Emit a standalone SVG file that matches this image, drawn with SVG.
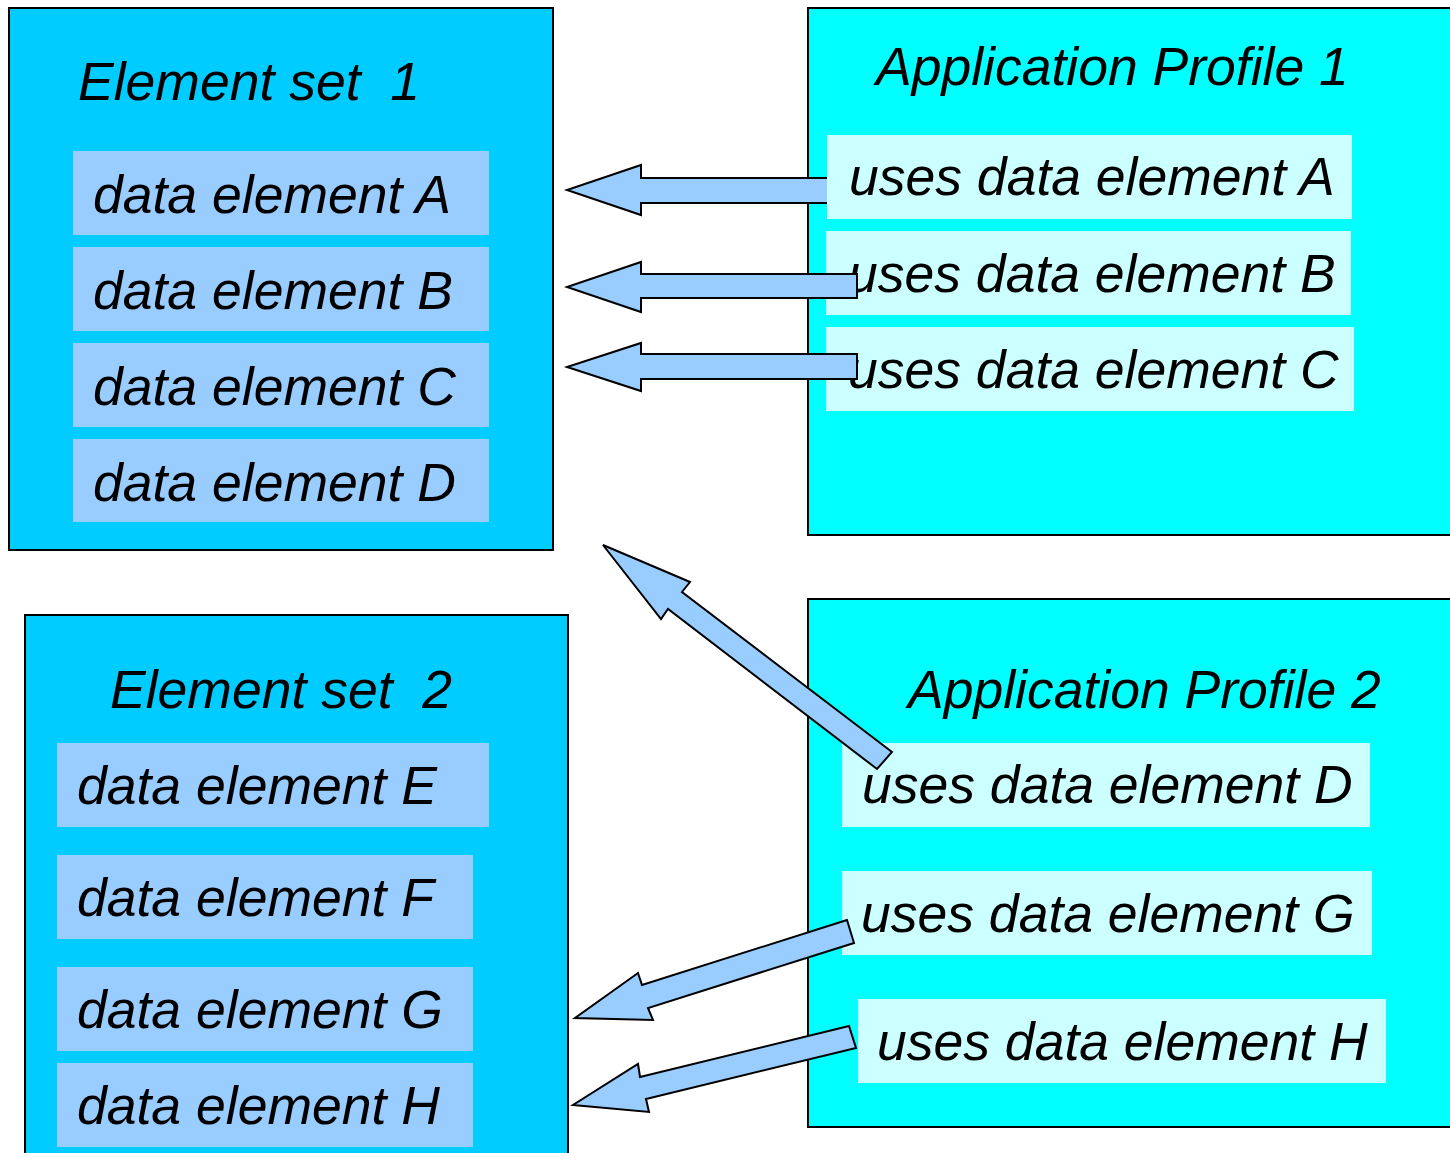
<svg xmlns="http://www.w3.org/2000/svg" width="1450" height="1153" viewBox="0 0 1450 1153">
<style>
.set{fill:#00CCFF;stroke:#000;stroke-width:2}
.prof{fill:#00FFFF;stroke:#000;stroke-width:2}
.de{fill:#99CCFF}
.use{fill:#CCFFFF}
text{font-family:"Liberation Sans",Arial,sans-serif;font-style:italic;font-size:53.5px;fill:#000;white-space:pre}
.arrow{fill:#99CCFF;stroke:#000;stroke-width:2;stroke-linejoin:miter}
</style>
<rect width="1450" height="1153" fill="#fff"/>
<g id="element-set-1">
<rect class="set" x="9" y="8" width="544" height="542"/>
<text x="78" y="100" xml:space="preserve">Element set  1</text>
<g id="data-element-A"><rect class="de" x="73" y="151" width="416" height="84"/><text x="93" y="213">data element A</text></g>
<g id="data-element-B"><rect class="de" x="73" y="247" width="416" height="84"/><text x="93" y="309">data element B</text></g>
<g id="data-element-C"><rect class="de" x="73" y="343" width="416" height="84"/><text x="93" y="405">data element C</text></g>
<g id="data-element-D"><rect class="de" x="73" y="439" width="416" height="83"/><text x="93" y="501">data element D</text></g>
</g>
<g id="element-set-2">
<rect class="set" x="25" y="615" width="543" height="545"/>
<text x="110" y="708" xml:space="preserve">Element set  2</text>
<g id="data-element-E"><rect class="de" x="57" y="743" width="432" height="84"/><text x="77" y="804">data element E</text></g>
<g id="data-element-F"><rect class="de" x="57" y="855" width="416" height="84"/><text x="77" y="916">data element F</text></g>
<g id="data-element-G"><rect class="de" x="57" y="967" width="416" height="84"/><text x="77" y="1028">data element G</text></g>
<g id="data-element-H"><rect class="de" x="57" y="1063" width="416" height="84"/><text x="77" y="1124">data element H</text></g>
</g>
<g id="application-profile-1">
<rect class="prof" x="808" y="8" width="660" height="527"/>
<text x="876" y="85">Application Profile 1</text>
<g id="uses-A"><rect class="use" x="827" y="135" width="525" height="84"/><text x="849" y="195">uses data element A</text></g>
<g id="uses-B"><rect class="use" x="826" y="231" width="525" height="84"/><text x="848" y="292">uses data element B</text></g>
<g id="uses-C"><rect class="use" x="826" y="327" width="528" height="84"/><text x="848" y="388">uses data element C</text></g>
</g>
<g id="application-profile-2">
<rect class="prof" x="808" y="599" width="660" height="528"/>
<text x="908" y="708">Application Profile 2</text>
<g id="uses-D"><rect class="use" x="842" y="743" width="528" height="84"/><text x="862" y="803">uses data element D</text></g>
<g id="uses-G"><rect class="use" x="842" y="871" width="530" height="84"/><text x="861" y="932">uses data element G</text></g>
<g id="uses-H"><rect class="use" x="858" y="999" width="528" height="84"/><text x="877" y="1060">uses data element H</text></g>
</g>
<g id="connectors">
<path class="arrow" d="M827,178 L641,178 L641,165 L567,190 L641,215 L641,203 L827,203"/>
<path class="arrow" d="M857,274 L641,274 L641,262 L567,287 L641,312 L641,298 L857,298 Z"/>
<path class="arrow" d="M857,354 L641,354 L641,343 L567,367 L641,391 L641,379 L857,379 Z"/>
<path class="arrow" d="M892,752 L682,592 L690,582 L603,545 L661,619 L668,609 L877,769 Z"/>
<path class="arrow" d="M847,920 L642,985 L638,973 L575,1018 L653,1020 L648,1008 L854,943 Z"/>
<path class="arrow" d="M849,1026 L640,1077 L638,1064 L573,1105 L649,1112 L646,1099 L856,1048 Z"/>
</g>
</svg>
